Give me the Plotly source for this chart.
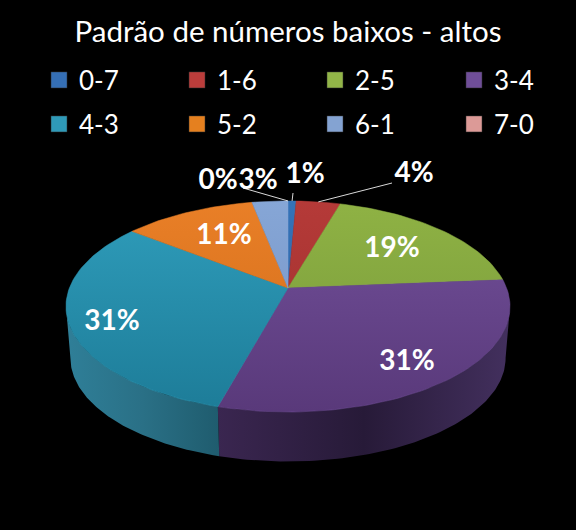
import math
import plotly.graph_objects as go

# ---- data ----
categories = ["0-7", "1-6", "2-5", "3-4", "4-3", "5-2", "6-1", "7-0"]
shares = [0.7, 3.8, 19.2, 30.6, 31.2, 11.4, 3.1, 0.0]
labels = ["1%", "4%", "19%", "31%", "31%", "11%", "3%", "0%"]
title_text = "Padrão de números baixos - altos"

# ---- styling ----
top_light = ["#3573b8", "#b53a38", "#8fb244", "#72509a", "#2f9dbb", "#e97f27", "#86a6d6", "#dd9795"]
top_dark = ["#2a5f9e", "#9c2f2d", "#76983a", "#59397a", "#1d7c98", "#cf6c1a", "#7392c4", "#c98583"]
swatch = ["#356fb5", "#bb3d3b", "#92b548", "#6f4e98", "#2f9ab8", "#e5801f", "#84a3d2", "#dc9a97"]
wall_edge = {3: ("#3a2650", "#271a38", "#43305e"), 4: ("#2f7f98", "#2a7086", "#1f5c6e")}

W, H = 576, 530
CX, CY = 288, 288
A, B, K = 218.6, 102.3, 0.175
CY2, SCALE2 = 340, 0.98
N_ARC = 90


def project(theta, cy=CY, scale=1.0):
    """Clockwise angle from 12 o'clock on a disc seen in perspective."""
    u, v = math.sin(theta), -math.cos(theta)
    d = 1 - K * v
    return CX + scale * A * u / d, cy + scale * B * v / d


total = sum(shares)
edges = [0.0]
for s in shares:
    edges.append(edges[-1] + s / total * 2 * math.pi)

fig = go.Figure()

# side wall
VIS0, VIS1 = math.radians(100), math.radians(260)
for i, (a0, a1) in enumerate(zip(edges, edges[1:])):
    lo, hi = max(a0, VIS0), min(a1, VIS1)
    if hi <= lo:
        continue
    ts = [lo + (hi - lo) * j / N_ARC for j in range(N_ARC + 1)]
    upper = [project(t) for t in ts]
    lower = [project(t, CY2, SCALE2) for t in reversed(ts)]
    pts = upper + lower + upper[:1]
    c = wall_edge.get(i, (swatch[i],) * 3)
    fig.add_trace(go.Scatter(
        x=[p[0] for p in pts], y=[p[1] for p in pts], mode="lines", fill="toself",
        line=dict(width=0), hoverinfo="skip", showlegend=False,
        fillgradient=dict(type="horizontal",
                          colorscale=[[0, c[0]], [0.5, c[1]], [1, c[2]]]),
    ))

# top face
for i, (a0, a1) in enumerate(zip(edges, edges[1:])):
    if a1 - a0 <= 0:
        continue
    n = max(4, int((a1 - a0) / (2 * math.pi) * 240))
    pts = [(CX, CY)] + [project(a0 + (a1 - a0) * j / n) for j in range(n + 1)] + [(CX, CY)]
    fig.add_trace(go.Scatter(
        x=[p[0] for p in pts], y=[p[1] for p in pts], mode="lines", fill="toself",
        line=dict(width=0.5, color=top_light[i]), hoverinfo="skip", showlegend=False,
        fillgradient=dict(type="vertical", start=201, stop=412,
                          colorscale=[[0, top_light[i]], [1, top_dark[i]]]),
    ))

# label positions (layout only)
label_pos = [(305, 176), (414, 175), (392, 250), (407, 363), (112, 323), (224, 237), (258, 182), (218, 182)]
leader_start = {0: (293, 193), 1: (392, 183), 6: (243, 188)}
for i, start in leader_start.items():
    mid = (edges[i] + edges[i + 1]) / 2
    end = project(mid)
    if i == 6:
        end = project(edges[i + 1])
    fig.add_trace(go.Scatter(x=[start[0], end[0]], y=[start[1], end[1]], mode="lines",
                             line=dict(color="#d9d9d9", width=1), hoverinfo="skip", showlegend=False))

fig.add_trace(go.Scatter(
    x=[p[0] for p in label_pos], y=[p[1] for p in label_pos], mode="text", text=labels,
    textposition="middle center", textfont=dict(family="Lato", size=28, color="white", weight="bold"),
    hoverinfo="skip", showlegend=False,
))

# legend entries: one native legend per entry so the 4x2 grid spacing can be matched
LEG_X = [39, 177, 315, 454]
LEG_Y = [80, 124]
legends = {}
for i, cat in enumerate(categories):
    key = "legend" if i == 0 else f"legend{i + 1}"
    fig.add_trace(go.Scatter(
        x=[None], y=[None], mode="markers", name=cat, legend=key,
        marker=dict(symbol="square", size=16, color=swatch[i], line=dict(color="#333333", width=0.5)),
    ))
    legends[key] = dict(orientation="v", xanchor="left", yanchor="middle",
                        x=LEG_X[i % 4] / W, y=1 - LEG_Y[i // 4] / H,
                        bgcolor="rgba(0,0,0,0)", borderwidth=0,
                        font=dict(family="Lato", size=26, color="white"),
                        itemclick=False, itemdoubleclick=False)

fig.update_layout(
    width=W, height=H, margin=dict(l=0, r=0, t=0, b=0),
    paper_bgcolor="black", plot_bgcolor="black", showlegend=True,
    title=dict(text=title_text, x=0.5, xanchor="center", y=1 - 32 / H, yanchor="middle",
               font=dict(family="Lato", size=29.5, color="white")),
    xaxis=dict(range=[0, W], visible=False, fixedrange=True),
    yaxis=dict(range=[H, 0], visible=False, fixedrange=True),
    **legends,
)

fig.write_html("out.html", config=dict(displayModeBar=False),
               post_script="document.body.style.margin='0';document.body.style.background='black';")
